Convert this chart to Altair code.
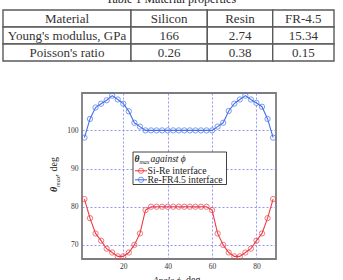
import altair as alt
import pandas as pd

# ---- Table 1: material properties ----
table_title = "Table 1 Material properties"
row_labels = ["Material", "Young's modulus, GPa", "Poisson's ratio"]
materials = ["Silicon", "Resin", "FR-4.5"]
youngs_modulus = ["166", "2.74", "15.34"]
poisson_ratio = ["0.26", "0.38", "0.15"]

# ---- theta_max against phi ----
angle_deg = [2.5, 5, 7.5, 10, 12.5, 15, 17.5, 20, 22.5, 25, 27.5, 30,
             32.5, 35, 37.5, 40, 42.5, 45, 47.5, 50, 52.5, 55, 57.5, 60,
             62.5, 65, 67.5, 70, 72.5, 75, 77.5, 80, 82.5, 85, 87.5]
theta_si_re = [82, 77, 73, 71.1, 69, 68, 67, 67, 68, 70, 73, 79.1,
               80, 80, 80, 80, 80, 80, 80, 80, 80, 80, 80, 79.1,
               73, 70, 68, 67, 67, 68, 69, 71.1, 73, 77, 82]
theta_re_fr = [98.1, 103, 106, 107, 107.9, 109.1, 108.1, 107, 105, 102, 101, 100,
               100, 100, 100, 100, 100, 100, 100, 100, 100, 100, 100, 100,
               101, 102, 105.1, 107, 108.1, 109.1, 108.1, 107.2, 106.2, 103, 98.1]
series_names = ["Si-Re interface", "Re-FR4.5 interface"]
series_colors = ["#ee3b44", "#4470ea"]

FONT = "'Liberation Serif', 'Times New Roman', serif"
TEXT = "#222222"

# plot-area geometry (page pixels)
OX, OY = 82, 93
W, H = 194, 166

curves = pd.DataFrame({
    "angle": angle_deg * 2,
    "theta": theta_si_re + theta_re_fr,
    "series": [series_names[0]] * len(angle_deg) + [series_names[1]] * len(angle_deg),
})

x_enc = alt.X("angle:Q", scale=alt.Scale(domain=[1.4, 88.8]),
              axis=alt.Axis(values=[20, 40, 60, 80], title=None))
y_enc = alt.Y("theta:Q", scale=alt.Scale(domain=[66.3, 109.8]),
              axis=alt.Axis(values=[70, 80, 90, 100], title=None))
color_enc = alt.Color("series:N", scale=alt.Scale(domain=series_names, range=series_colors),
                      legend=None)

lines = alt.Chart(curves).mark_line(strokeWidth=1.1).encode(
    x=x_enc, y=y_enc, color=color_enc, detail="series:N")
points = alt.Chart(curves).mark_point(shape="circle", filled=False, size=28,
                                      strokeWidth=1.0).encode(
    x=x_enc, y=y_enc, color=color_enc)
plot = alt.layer(lines, points)

# ---- table cells ----
col_edges = [0, 128, 204.3, 269.7, 331]   # column boundaries in table units
rows = [
    [row_labels[0]] + materials,
    [row_labels[1]] + youngs_modulus,
    [row_labels[2]] + poisson_ratio,
]
cells = []
for r, row in enumerate(rows):
    for c, txt in enumerate(row):
        cells.append({"r0": r, "r1": r + 1, "rm": r + 0.5,
                      "x0": col_edges[c], "x1": col_edges[c + 1],
                      "xm": (col_edges[c] + col_edges[c + 1]) / 2, "text": txt})
cells = pd.DataFrame(cells)

tx = alt.Scale(domain=[0, 331], range=[3 - OX, 334 - OX])
ty = alt.Scale(domain=[0, 3], range=[10 - OY, 61 - OY])
cell_rects = alt.Chart(cells).mark_rect(fill="white", stroke="#5a5a5a", strokeWidth=1.4).encode(
    x=alt.X("x0:Q", scale=tx, axis=None), x2="x1:Q",
    y=alt.Y("r0:Q", scale=ty, axis=None), y2="r1:Q")
cell_text = alt.Chart(cells).mark_text(font=FONT, fontSize=13, color="#333333",
                                       baseline="middle").encode(
    x=alt.X("xm:Q", scale=tx, axis=None),
    y=alt.Y("rm:Q", scale=ty, axis=None),
    text="text:N")
table = alt.layer(cell_rects, cell_text)

one = pd.DataFrame({"k": [0]})


def label(text, x, y, size, style="normal", weight="normal", angle=0,
          align="left", baseline="alphabetic", color=TEXT):
    """Text placed at page pixel (x, y)."""
    kw = dict(text=text, font=FONT, fontSize=size, fontStyle=style,
              fontWeight=weight, align=align, baseline=baseline, color=color)
    if angle:
        kw["angle"] = angle
    return alt.Chart(one).mark_text(**kw).encode(
        x=alt.value(x - OX), y=alt.value(y - OY))


annotations = [
    label(table_title, 171, 3, 12, align="center"),
    # y-axis title: theta_max, deg
    label("θ", 57, 192, 10, style="italic", weight="bold", angle=270),
    label("max", 60, 187, 6.5, style="italic", angle=270),
    label(", deg", 57, 176.5, 10, angle=270),
    # x-axis title: Angle phi, deg
    label("Angle ϕ", 181, 283, 9, style="italic", align="right"),
    label(", deg", 181, 283, 10),
]

# ---- legend ----
legend_box = alt.Chart(one).mark_rect(fill="white", stroke="#111111", strokeWidth=0.8).encode(
    x=alt.value(133 - OX), x2=alt.value(226.5 - OX),
    y=alt.value(152 - OY), y2=alt.value(184.5 - OY))
legend_parts = [legend_box,
                label("θ", 134.5, 162, 9.5, style="italic", weight="bold"),
                label("max", 139.5, 164, 6, style="italic"),
                label("against ϕ", 150.5, 162, 9.5, style="italic")]
for i, (name, col) in enumerate(zip(series_names, series_colors)):
    yy = 170.8 + 9.0 * i
    legend_parts.append(alt.Chart(one).mark_rule(color=col, strokeWidth=1.1).encode(
        x=alt.value(135 - OX), x2=alt.value(147 - OX), y=alt.value(yy - OY)))
    legend_parts.append(alt.Chart(one).mark_point(shape="circle", filled=False, size=28,
                                                  color=col, strokeWidth=1.0).encode(
        x=alt.value(141 - OX), y=alt.value(yy - OY)))
    legend_parts.append(label(name, 147.5, yy, 9.8, baseline="middle"))

chart = alt.layer(plot, table, *annotations, *legend_parts).resolve_scale(
    x="independent", y="independent"
).properties(
    width=W, height=H,
    autosize=alt.AutoSizeParams(type="none"),
    padding={"left": OX, "top": OY, "right": 343 - OX - W, "bottom": 280 - OY - H},
    background="white",
).configure_view(
    stroke="#7d7d7d", strokeWidth=1.8
).configure_axis(
    grid=True, gridColor="#7a7af2", gridDash=[2, 2], gridWidth=0.8,
    domain=False, ticks=False,
    labelFont=FONT, labelFontSize=7.5, labelColor="#333333",
).configure_axisX(labelPadding=3).configure_axisY(labelPadding=4)

chart.save("out.html", embed_options={"renderer": "svg", "actions": False})
